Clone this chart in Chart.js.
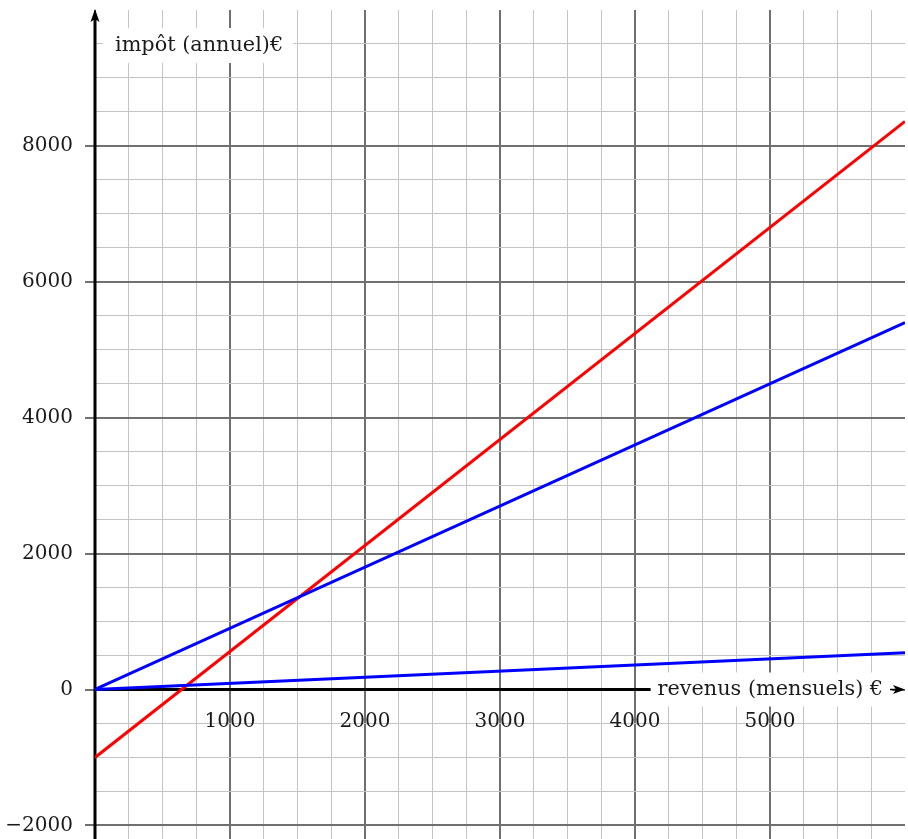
<!DOCTYPE html>
<html>
<head>
<meta charset="utf-8">
<script src="https://cdn.jsdelivr.net/npm/chart.js@4"></script>
<style>
  html, body { margin: 0; padding: 0; background: #fff; }
  #wrap { width: 908px; height: 839px; }
</style>
</head>
<body>
<div id="wrap"><canvas id="chart"></canvas></div>
<script>
// Data
const revenus = [0, 6000];
const impotRouge = [-1000, 8360];
const impotBleuHaut = [0, 5400];
const impotBleuBas = [0, 540];

const xTickLabels = [1000, 2000, 3000, 4000, 5000];
const yTickLabels = [-2000, 0, 2000, 4000, 6000, 8000];
const xTitle = 'revenus (mensuels) €';
const yTitle = 'impôt (annuel)€';

const FONT = '"DejaVu Serif", serif';
const MAJOR = '#707070';
const MINOR = '#c4c4c4';

function steps(from, to, step) {
  const out = [];
  for (let v = from; v <= to; v += step) out.push({ value: v });
  return out;
}

function points(ys) {
  return revenus.map((r, i) => ({ x: r, y: ys[i] }));
}

// Axes with arrows and the two titles on white boxes
const axesPlugin = {
  id: 'axes',
  beforeDatasetsDraw(chart) {
    const { ctx, chartArea, scales: { x, y } } = chart;
    const x0 = x.getPixelForValue(0);
    const y0 = y.getPixelForValue(0);
    ctx.save();
    ctx.font = '20.8px ' + FONT;
    ctx.textBaseline = 'middle';

    // x title box
    const boxLeft = x.getPixelForValue(4115);
    const tw = ctx.measureText(xTitle).width;
    ctx.fillStyle = '#fff';
    ctx.fillRect(boxLeft, y0 - 17, tw + 16, 34);
    ctx.fillStyle = '#1a1a1a';
    ctx.fillText(xTitle, boxLeft + 7, y0);

    // x axis
    ctx.strokeStyle = '#000';
    ctx.lineWidth = 3;
    ctx.beginPath();
    ctx.moveTo(x0, y0);
    ctx.lineTo(boxLeft, y0);
    ctx.stroke();

    // small arrow at the right end
    const r = chartArea.right;
    ctx.lineWidth = 1.5;
    ctx.beginPath();
    ctx.moveTo(r - 15, y0);
    ctx.lineTo(r - 4, y0);
    ctx.stroke();
    ctx.fillStyle = '#000';
    ctx.beginPath();
    ctx.moveTo(r, y0);
    ctx.lineTo(r - 12, y0 - 4.5);
    ctx.lineTo(r - 9, y0);
    ctx.lineTo(r - 12, y0 + 4.5);
    ctx.closePath();
    ctx.fill();

    // y title box
    const top = chartArea.top;
    const yw = ctx.measureText(yTitle).width;
    ctx.fillStyle = '#fff';
    ctx.fillRect(x0 + 8, top + 18, yw + 22, 35);
    ctx.fillStyle = '#1a1a1a';
    ctx.fillText(yTitle, x0 + 20, top + 36);

    // y axis
    ctx.strokeStyle = '#000';
    ctx.lineWidth = 3;
    ctx.beginPath();
    ctx.moveTo(x0, chartArea.bottom);
    ctx.lineTo(x0, top + 8);
    ctx.stroke();
    ctx.fillStyle = '#000';
    ctx.beginPath();
    ctx.moveTo(x0, top - 1);
    ctx.lineTo(x0 - 4.5, top + 12);
    ctx.lineTo(x0, top + 9);
    ctx.lineTo(x0 + 4.5, top + 12);
    ctx.closePath();
    ctx.fill();
    ctx.restore();
  }
};

new Chart(document.getElementById('chart'), {
  type: 'scatter',
  data: {
    datasets: [
      { data: points(impotBleuBas), borderColor: '#0000ff' },
      { data: points(impotBleuHaut), borderColor: '#0000ff' },
      { data: points(impotRouge), borderColor: '#ff0000' }
    ].map(d => Object.assign(d, { showLine: true, borderWidth: 3, pointRadius: 0, tension: 0 }))
  },
  options: {
    responsive: true,
    maintainAspectRatio: false,
    animation: false,
    layout: { padding: { left: 0, right: 3, top: 10, bottom: 0 } },
    plugins: { legend: { display: false }, tooltip: { enabled: false } },
    scales: {
      x: {
        type: 'linear',
        position: { y: 0 },
        min: 0,
        max: 6000,
        afterBuildTicks: s => { s.ticks = steps(0, 6000, 250); },
        afterFit: s => { s.paddingLeft = 0; s.paddingRight = 0; },
        border: { display: false },
        grid: {
          drawTicks: false,
          color: c => c.tick.value === 6000 ? 'rgba(0,0,0,0)' : (c.tick.value % 1000 === 0 ? MAJOR : MINOR),
          lineWidth: c => c.tick.value % 1000 === 0 ? 2 : 1
        },
        ticks: {
          autoSkip: false,
          maxRotation: 0,
          padding: 20,
          color: '#1a1a1a',
          font: { family: FONT, size: 20 },
          callback: v => xTickLabels.includes(v) ? String(v) : ''
        }
      },
      y: {
        type: 'linear',
        position: 'left',
        min: -2200,
        max: 10000,
        afterBuildTicks: s => { s.ticks = steps(-2000, 10000, 500); },
        afterFit: s => { s.width = 95; s.paddingTop = 0; s.paddingBottom = 0; },
        border: { display: false },
        grid: {
          tickLength: 10,
          color: c => c.tick.value === 10000 ? 'rgba(0,0,0,0)' : (c.tick.value % 2000 === 0 ? MAJOR : MINOR),
          tickColor: c => c.tick.value % 2000 === 0 && c.tick.value < 10000 ? MAJOR : 'rgba(0,0,0,0)',
          lineWidth: c => c.tick.value % 2000 === 0 ? 2 : 1
        },
        ticks: {
          autoSkip: false,
          padding: 12,
          color: '#1a1a1a',
          font: { family: FONT, size: 20 },
          callback: v => yTickLabels.includes(v) ? String(v).replace('-', '\u2212') : ''
        }
      }
    }
  },
  plugins: [axesPlugin]
});
</script>
</body>
</html>
